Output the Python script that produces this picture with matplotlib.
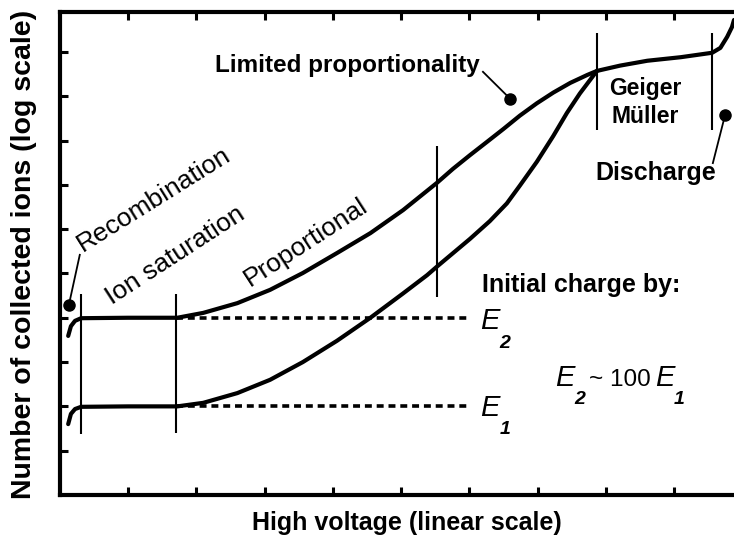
import matplotlib
matplotlib.use('Agg')
import matplotlib.pyplot as plt

# curve for the larger initial charge (E2)
upper_x = [0.12, 0.16, 0.22, 0.31, 1.00, 1.72, 2.10, 2.60, 3.08, 3.56, 4.06, 4.55,
           5.03, 5.28, 5.53, 5.76, 6.01, 6.26, 6.50, 6.74, 6.99, 7.23, 7.48, 7.73,
           7.87, 8.21, 8.61, 9.10, 9.56, 9.68, 9.78, 9.85, 9.88]
upper_y = [3.59, 3.81, 3.93, 3.99, 4.00, 4.00, 4.11, 4.33, 4.63, 5.01, 5.46, 5.91,
           6.43, 6.74, 7.05, 7.36, 7.67, 7.97, 8.26, 8.56, 8.84, 9.08, 9.30, 9.48,
           9.57, 9.69, 9.80, 9.88, 9.98, 10.09, 10.34, 10.56, 10.72]

# curve for the smaller initial charge (E1)
lower_x = [0.12, 0.16, 0.22, 0.31, 1.00, 1.72, 2.10, 2.60, 3.08, 3.56, 4.06, 4.55,
           5.03, 5.38, 5.53, 6.01, 6.30, 6.55, 6.74, 6.99, 7.23, 7.43, 7.62, 7.87]
lower_y = [1.60, 1.83, 1.94, 1.99, 2.00, 2.00, 2.08, 2.30, 2.60, 3.00, 3.48, 4.00,
           4.55, 4.96, 5.16, 5.78, 6.18, 6.58, 6.98, 7.52, 8.10, 8.62, 9.06, 9.57]

# region boundaries: x, bottom, top
bound_x = [0.31, 1.70, 5.53, 7.87, 9.56]
bound_lo = [1.38, 1.40, 4.47, 8.24, 8.24]
bound_hi = [4.54, 4.54, 7.88, 10.43, 10.43]

# dashed saturation levels
sat_levels = [4.0, 2.0]
sat_start, sat_end = 1.70, 5.97

x_ticks = [1, 2, 3, 4, 5, 6, 7, 8, 9]
y_ticks = [1, 2, 3, 4, 5, 6, 7, 8, 9, 10]

plt.rcParams['font.family'] = ['Liberation Sans', 'DejaVu Sans']
plt.rcParams['lines.scale_dashes'] = False

fig = plt.figure(figsize=(7.34, 5.42), dpi=100)
ax = fig.add_axes([60 / 734, 1 - 495 / 542, 1 - 60 / 734, (495 - 12) / 542])
ax.set_xlim(0, 9.88)
ax.set_ylim(0, 10.9)

for s in ['left', 'bottom', 'top']:
    ax.spines[s].set_linewidth(3)
ax.spines['right'].set_visible(False)
ax.set_xticks(x_ticks)
ax.set_yticks(y_ticks)
ax.set_xticklabels([])
ax.set_yticklabels([])
ax.tick_params(direction='in', length=6, width=2.2, top=True, right=False)

ax.plot(upper_x, upper_y, color='black', lw=3, solid_capstyle='round', solid_joinstyle='round')
ax.plot(lower_x, lower_y, color='black', lw=3, solid_capstyle='round', solid_joinstyle='round')

for lev in sat_levels:
    ax.plot([sat_start, sat_end], [lev, lev], color='black', lw=2.6, dashes=(5, 3.5))

ax.vlines(bound_x, bound_lo, bound_hi, color='black', lw=1.5)

# pointers with dots
pointers = [((0.29, 5.42), (0.13, 4.29)),
            ((6.20, 9.55), (6.60, 8.94)),
            ((9.57, 7.49), (9.75, 8.58))]
for (x0, y0), (x1, y1) in pointers:
    ax.plot([x0, x1], [y0, y1], color='black', lw=1.3)
    ax.plot(x1, y1, 'o', color='black', ms=8)

kw = dict(rotation_mode='anchor', ha='left', va='baseline')
ax.text(0.34, 5.49, 'Recombination', rotation=32, fontsize=19, **kw)
ax.text(0.76, 4.29, 'Ion saturation', rotation=33, fontsize=19, **kw)
ax.text(2.79, 4.70, 'Proportional', rotation=33, fontsize=19, **kw)
ax.text(2.27, 9.55, 'Limited proportionality', fontsize=17.5, fontweight='bold', **kw)
ax.text(6.19, 4.58, 'Initial charge by:', fontsize=18, fontweight='bold', **kw)

ax.text(8.58, 9.03, 'Geiger', fontsize=16.5, fontweight='bold', ha='center', va='baseline')
ax.text(8.58, 8.40, 'Müller', fontsize=16.5, fontweight='bold', ha='center', va='baseline')
ax.text(8.74, 7.11, 'Discharge', fontsize=18, fontweight='bold', ha='center', va='baseline')

ekw = dict(fontsize=21, style='italic', ha='left', va='baseline')
skw = dict(fontsize=14, style='italic', fontweight='bold', ha='left', va='baseline')
ax.text(6.16, 3.75, 'E', **ekw)
ax.text(6.44, 3.32, '2', **skw)
ax.text(6.16, 1.78, 'E', **ekw)
ax.text(6.44, 1.38, '1', **skw)
ax.text(7.26, 2.46, 'E', **ekw)
ax.text(7.54, 2.05, '2', **skw)
ax.text(7.76, 2.46, '~ 100', fontsize=17.5, ha='left', va='baseline')
ax.text(8.72, 2.46, 'E', **ekw)
ax.text(9.00, 2.05, '1', **skw)

fig.text(407 / 734, 1 - 530 / 542, 'High voltage (linear scale)', fontsize=18,
         fontweight='bold', ha='center', va='baseline')
fig.text(24 / 734, 1 - 254 / 542, 'Number of collected ions (log scale)', fontsize=20.5,
         fontweight='bold', ha='center', va='center', rotation=90)

fig.savefig('out.png', dpi=100)
